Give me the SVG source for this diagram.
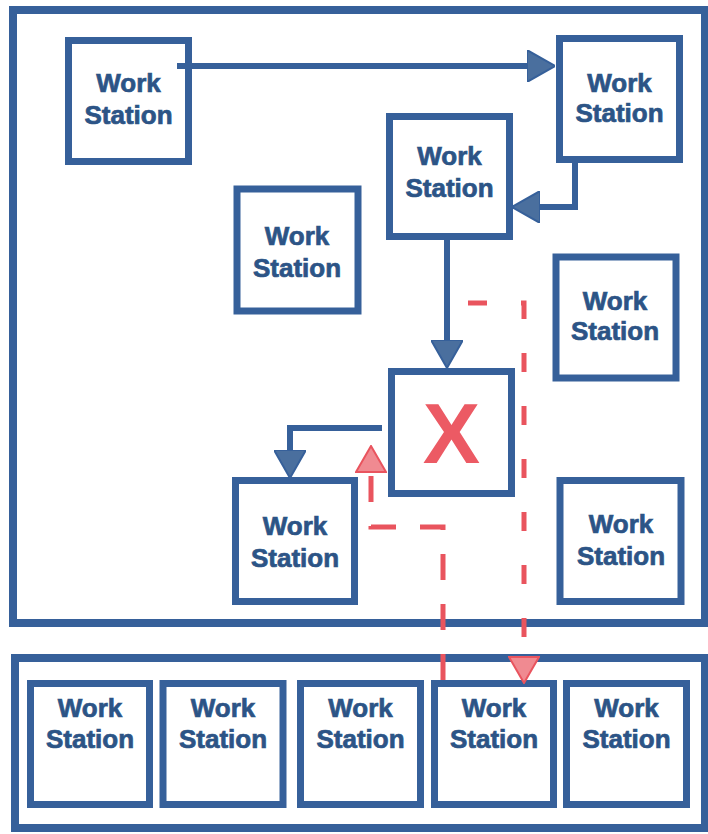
<svg xmlns="http://www.w3.org/2000/svg" width="708" height="834" viewBox="0 0 708 834">
  <style>
    .frame { fill: none; stroke: #36609a; stroke-width: 8; }
    .box { fill: #ffffff; stroke: #36609a; stroke-width: 7; }
    .label { font-family: "Liberation Sans", Arial, sans-serif; font-weight: bold; font-size: 26px; fill: #2c5486; stroke: #2c5486; stroke-width: 0.7; text-anchor: middle; }
    .mark { font-family: "Liberation Sans", Arial, sans-serif; font-weight: bold; font-size: 86px; fill: #ec5a64; text-anchor: middle; }
    .flow { fill: none; stroke: #36609a; stroke-width: 6; }
    .rework { fill: none; stroke: #e9545e; stroke-width: 5; }
  </style>
  <defs>
    <marker id="arrowBlue" viewBox="0 0 28 32" refX="0" refY="16" markerWidth="28" markerHeight="32" markerUnits="userSpaceOnUse" orient="auto">
      <path d="M0,0 L28,16 L0,32 Z" fill="#4a6f9e" stroke="#36609a" stroke-width="2"/>
    </marker>
    <marker id="arrowRed" viewBox="0 0 28 32" refX="0" refY="16" markerWidth="28" markerHeight="32" markerUnits="userSpaceOnUse" orient="auto">
      <path d="M1,1 L27,16 L1,31 Z" fill="#f08a91" stroke="#e9545e" stroke-width="2"/>
    </marker>
  </defs>
  <rect width="708" height="834" fill="#ffffff"/>

  <g id="floor">
    <rect class="frame" x="13" y="10" width="692" height="613"/>
  </g>
  <g id="line">
    <rect class="frame" x="15" y="658" width="690" height="170"/>
  </g>

  <g id="ws1">
    <rect class="box" x="68.5" y="40.5" width="120" height="121"/>
    <text class="label" x="128.5" y="92">Work</text>
    <text class="label" x="128.5" y="124">Station</text>
  </g>
  <g id="ws2">
    <rect class="box" x="559.5" y="38.5" width="120" height="121"/>
    <text class="label" x="619.5" y="92">Work</text>
    <text class="label" x="619.5" y="122">Station</text>
  </g>
  <g id="ws3">
    <rect class="box" x="389.5" y="116.5" width="120" height="120"/>
    <text class="label" x="449.5" y="165">Work</text>
    <text class="label" x="449.5" y="197">Station</text>
  </g>
  <g id="ws4">
    <rect class="box" x="237" y="189" width="121" height="122"/>
    <text class="label" x="297" y="245">Work</text>
    <text class="label" x="297" y="277">Station</text>
  </g>
  <g id="ws5">
    <rect class="box" x="556" y="257" width="120" height="121"/>
    <text class="label" x="615" y="310">Work</text>
    <text class="label" x="615" y="340">Station</text>
  </g>
  <g id="failed">
    <rect class="box" x="391.5" y="371.5" width="120" height="122"/>
    <text class="mark" x="451.5" y="463">X</text>
  </g>
  <g id="ws6">
    <rect class="box" x="235.5" y="480.5" width="119" height="121"/>
    <text class="label" x="295" y="535">Work</text>
    <text class="label" x="295" y="567">Station</text>
  </g>
  <g id="ws7">
    <rect class="box" x="560" y="480.5" width="121" height="121"/>
    <text class="label" x="621" y="533">Work</text>
    <text class="label" x="621" y="565">Station</text>
  </g>

  <g id="line-ws1">
    <rect class="box" x="30.5" y="683.5" width="119" height="121"/>
    <text class="label" x="90" y="717">Work</text>
    <text class="label" x="90" y="748">Station</text>
  </g>
  <g id="line-ws2">
    <rect class="box" x="163" y="683.5" width="120" height="121"/>
    <text class="label" x="223" y="717">Work</text>
    <text class="label" x="223" y="748">Station</text>
  </g>
  <g id="line-ws3">
    <rect class="box" x="300.5" y="683.5" width="120" height="121"/>
    <text class="label" x="360.5" y="717">Work</text>
    <text class="label" x="360.5" y="748">Station</text>
  </g>
  <g id="line-ws4">
    <rect class="box" x="434.5" y="683.5" width="119" height="121"/>
    <text class="label" x="494" y="717">Work</text>
    <text class="label" x="494" y="748">Station</text>
  </g>
  <g id="line-ws5">
    <rect class="box" x="566.5" y="683.5" width="120" height="121"/>
    <text class="label" x="626.5" y="717">Work</text>
    <text class="label" x="626.5" y="748">Station</text>
  </g>

  <g id="connectors">
    <path class="flow" d="M177,66 H527" marker-end="url(#arrowBlue)"/>
    <path class="flow" d="M575,163 V207 H540" marker-end="url(#arrowBlue)"/>
    <path class="flow" d="M447,240 V340" marker-end="url(#arrowBlue)"/>
    <path class="flow" d="M382,428 H290 V450" marker-end="url(#arrowBlue)"/>
    <path class="rework" d="M443,680 V527 H371 V473" stroke-dasharray="26 24" marker-end="url(#arrowRed)"/>
    <path class="rework" d="M468,303 H524 V656" stroke-dasharray="19 34" marker-end="url(#arrowRed)"/>
  </g>
</svg>
